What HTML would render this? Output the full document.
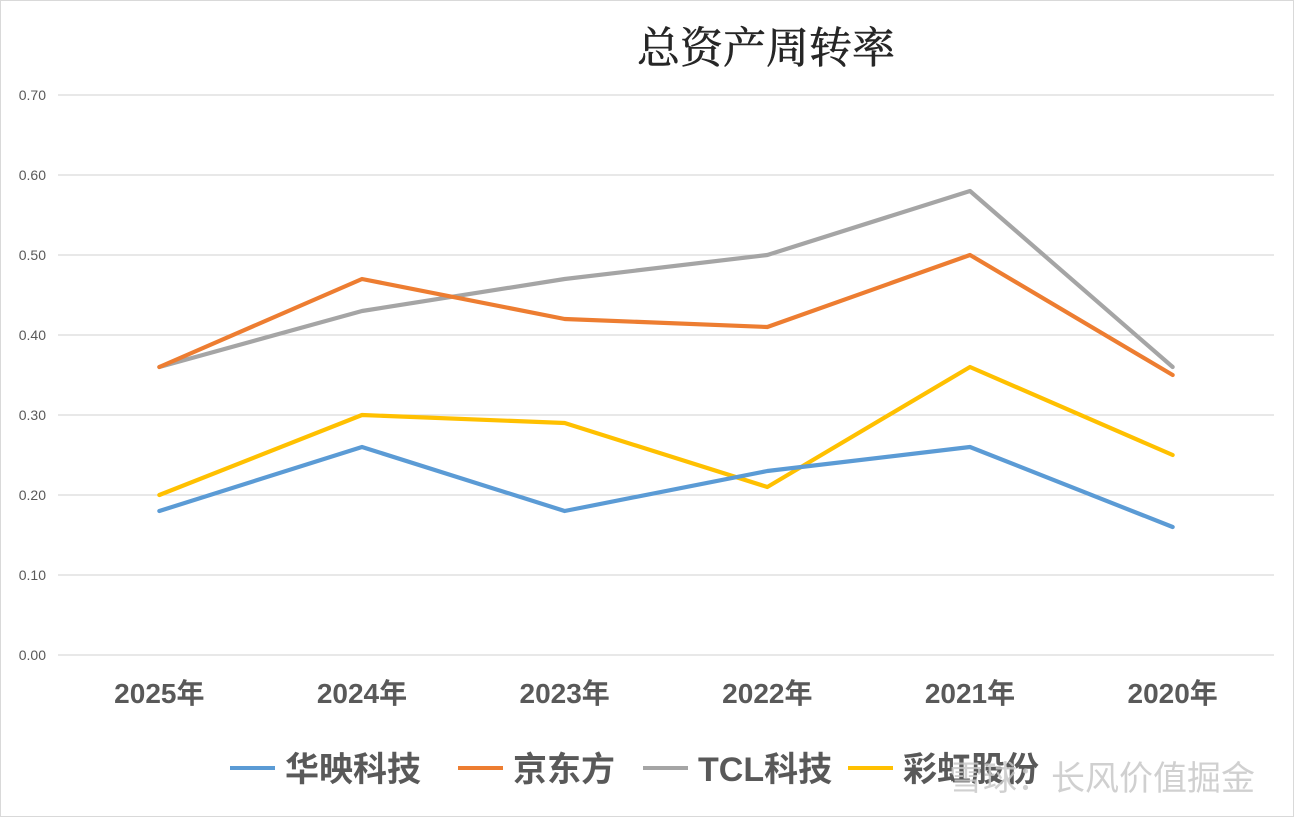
<!DOCTYPE html>
<html><head><meta charset="utf-8"><style>
html,body{margin:0;padding:0;background:#fff;}
svg{display:block;}
</style></head><body>
<svg id="chart" width="1294" height="817" xmlns="http://www.w3.org/2000/svg">
<rect x="0.5" y="0.5" width="1293" height="816" fill="#fff" stroke="#d9d9d9"/>
<text x="766" y="63" text-anchor="middle" font-family="'Liberation Serif','Noto Serif CJK SC',serif" font-size="43" fill="#262626" stroke="#262626" stroke-width="0.6">总资产周转率</text>
<g id="grid"></g><g id="series"></g><g id="legend"></g>
<text x="1255" y="790" text-anchor="end" font-family="'Liberation Sans','Noto Sans CJK SC',sans-serif" font-size="34" fill="#c8c8c8" opacity="0.85">雪球：长风价值掘金</text>
</svg>
<script>
const categories=["2025年","2024年","2023年","2022年","2021年","2020年"];
const seriesNames=["华映科技","京东方","TCL科技","彩虹股份"];
const huaying=[0.18,0.26,0.18,0.23,0.26,0.16];
const boe=[0.36,0.47,0.42,0.41,0.50,0.35];
const tcl=[0.36,0.43,0.47,0.50,0.58,0.36];
const caihong=[0.20,0.30,0.29,0.21,0.36,0.25];
const yTicks=[0,0.1,0.2,0.3,0.4,0.5,0.6,0.7];
const colors=["#5b9bd5","#ed7d31","#a5a5a5","#ffc000"];
const NS="http://www.w3.org/2000/svg";
const x0=58,x1=1274,yBase=655,pxPer=800;
const band=(x1-x0)/categories.length;
const xs=i=>x0+band*(i+0.5);
const ys=v=>yBase-v*pxPer;
const grid=document.getElementById('grid');
function mk(t,a,p){const e=document.createElementNS(NS,t);for(const k in a)e.setAttribute(k,a[k]);p.appendChild(e);return e;}
yTicks.forEach(v=>{
 const l=mk('line',{x1:x0,x2:x1,y1:ys(v),y2:ys(v),stroke:'#d9d9d9','stroke-width':1.3},grid);
 
 
 const t=mk('text',{x:46,y:ys(v)+5,'text-anchor':'end','font-family':"'Liberation Sans',sans-serif",'font-size':14,fill:'#595959'},grid);
 t.textContent=v.toFixed(2);
 
 
});
categories.forEach((c,i)=>{
 const t=mk('text',{x:xs(i),y:703,'text-anchor':'middle','font-family':"'Liberation Sans','Noto Sans CJK SC',sans-serif",'font-size':28,'font-weight':'bold',fill:'#595959'},grid);
 t.textContent=c;
 
 
});
const all=[huaying,boe,tcl,caihong];
const sg=document.getElementById('series');
[2,1,3,0].forEach(k=>{
 const p=mk('polyline',{points:all[k].map((v,i)=>xs(i)+','+ys(v)).join(' '),fill:'none',stroke:colors[k],'stroke-width':4.2,'stroke-linejoin':'round','stroke-linecap':'round'},sg);
 
 
});
const lg=document.getElementById('legend');
const lx=[230,458,643,848];
seriesNames.forEach((n,k)=>{
 const g=mk('g',{},lg);
 
 
 mk('line',{x1:lx[k],x2:lx[k]+45,y1:768,y2:768,stroke:colors[k],'stroke-width':4},g);
 const t=mk('text',{x:lx[k]+55,y:781,'font-family':"'Liberation Sans','Noto Sans CJK SC',sans-serif",'font-size':34,'font-weight':'bold',fill:'#595959'},g);
 t.textContent=n;
});
</script>
</body></html>
